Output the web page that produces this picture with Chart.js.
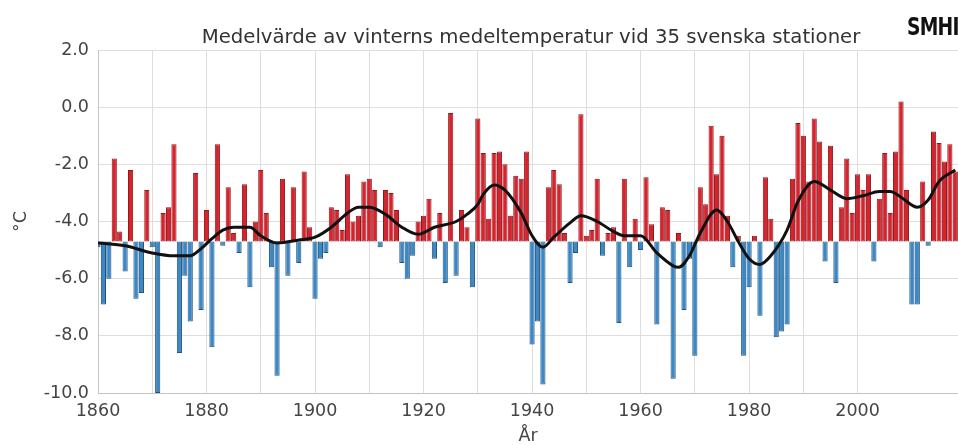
<!DOCTYPE html>
<html>
<head>
<meta charset="utf-8">
<script src="https://cdn.jsdelivr.net/npm/chart.js@4.4.0/dist/chart.umd.min.js"></script>
<style>
html,body{margin:0;padding:0;background:#fff;overflow:hidden;}
#wrap{position:relative;width:958px;height:445px;overflow:hidden;}
#logo{position:absolute;left:907px;top:13px;font-family:"DejaVu Sans","Liberation Sans",sans-serif;font-weight:bold;font-size:24px;letter-spacing:-1px;color:#111;white-space:nowrap;transform:scaleX(0.78);transform-origin:0 0;}
</style>
</head>
<body>
<div id="wrap">
<canvas id="c" width="958" height="445"></canvas>
<div id="logo">SMHI</div>
</div>
<script>
// ---- data ----
const titleText = "Medelvärde av vinterns medeltemperatur vid 35 svenska stationer";
const yAxisLabel = "°C";
const xAxisLabel = "År";
const firstYear = 1860;
const baselineValue = -4.7;           // long-term mean, bars grow from here
const yTickValues = [2, 0, -2, -4, -6, -8, -10];
const xLabelYears = [1860, 1880, 1900, 1920, 1940, 1960, 1980, 2000];

// winter mean temperature per year, 1860 ... 2018
const winterTemp = [
  -4.9, -6.9, -6.0, -1.8, -4.35, -5.75, -2.2, -6.7, -6.5, -2.9,   // 1860s
  -4.9, -10.0, -3.7, -3.5, -1.3, -8.6, -5.9, -7.5, -2.3, -7.1,    // 1870s
  -3.6, -8.4, -1.3, -4.85, -2.8, -4.4, -5.1, -2.7, -6.3, -4.0,    // 1880s
  -2.2, -3.7, -5.6, -9.4, -2.5, -5.9, -2.8, -5.45, -2.25, -4.2,   // 1890s
  -6.7, -5.3, -5.1, -3.5, -3.6, -4.3, -2.35, -4.0, -3.8, -2.6,    // 1900s
  -2.5, -2.9, -4.9, -2.9, -3.0, -3.6, -5.45, -6.0, -5.2, -4.0,    // 1910s
  -3.8, -3.2, -5.3, -3.7, -6.15, -0.2, -5.9, -3.6, -4.2, -6.3,    // 1920s
  -0.4, -1.6, -3.9, -1.6, -1.55, -2.0, -3.8, -2.4, -2.5, -1.55,   // 1930s
  -8.3, -7.5, -9.7, -2.8, -2.2, -2.7, -4.4, -6.15, -5.1, -0.25,   // 1940s
  -4.5, -4.3, -2.5, -5.2, -4.4, -4.2, -7.55, -2.5, -5.6, -3.9,    // 1950s
  -5.0, -2.45, -4.1, -7.6, -3.5, -3.6, -9.5, -4.4, -7.1, -5.3,    // 1960s
  -8.7, -2.8, -3.4, -0.65, -2.35, -1.0, -3.8, -5.6, -4.5, -8.7,   // 1970s
  -6.3, -4.5, -7.3, -2.45, -3.9, -8.05, -7.85, -7.6, -2.5, -0.55, // 1980s
  -1.0, -2.6, -0.4, -1.2, -5.4, -1.35, -6.15, -3.5, -1.8, -3.7,   // 1990s
  -2.35, -2.9, -2.35, -5.4, -3.2, -1.6, -3.7, -1.55, 0.2, -2.9,   // 2000s
  -6.9, -6.9, -2.6, -4.85, -0.85, -1.25, -1.9, -1.3, -2.25        // 2010s
];

// smoothed curve, read at selected years
const smoothYears = [1860, 1865, 1870, 1874, 1877, 1879, 1881, 1883, 1885, 1888,
  1890, 1893, 1897, 1900, 1903, 1906, 1908, 1910, 1913, 1916, 1919, 1922, 1926,
  1928, 1930, 1931, 1933, 1935, 1938, 1940, 1942, 1944, 1947, 1949, 1952, 1955,
  1957, 1960, 1963, 1966, 1967, 1969, 1971, 1974, 1976, 1978, 1980, 1982, 1984,
  1987, 1989, 1992, 1995, 1998, 2001, 2004, 2006, 2008, 2011, 2013, 2015, 2018];
const smoothTemp = [-4.75, -4.85, -5.1, -5.2, -5.2, -4.95, -4.6, -4.3, -4.2, -4.2,
  -4.5, -4.75, -4.65, -4.55, -4.2, -3.7, -3.5, -3.5, -3.75, -4.2, -4.45, -4.2, -4.0,
  -3.75, -3.4, -3.05, -2.72, -2.9, -3.7, -4.5, -4.9, -4.55, -4.05, -3.8, -4.0, -4.35,
  -4.5, -4.5, -5.1, -5.55, -5.6, -5.2, -4.4, -3.6, -4.0, -4.7, -5.3, -5.5, -5.2,
  -4.3, -3.3, -2.6, -2.9, -3.2, -3.1, -2.95, -2.95, -3.15, -3.5, -3.25, -2.6, -2.2];

// ---- styling ----
const RED = '#d8222c', RED_EDGE = '#8c1a1f';
const BLUE = '#3a88c6', BLUE_EDGE = '#23537c';
const FONT = '"DejaVu Sans", sans-serif';
const TEXT = '#444';

const barPoints = winterTemp.map((v, i) => ({ x: firstYear + i, y: v }));
const linePoints = smoothYears.map((yr, i) => ({ x: yr, y: smoothTemp[i] }));

const titlePlugin = {
  id: 'topTitle',
  afterDraw(chart) {
    const ctx = chart.ctx;
    ctx.save();
    ctx.font = '19.7px ' + FONT;
    ctx.fillStyle = '#333';
    ctx.textAlign = 'center';
    ctx.textBaseline = 'alphabetic';
    ctx.fillText(titleText, 531, 43);
    ctx.restore();
  }
};

new Chart(document.getElementById('c'), {
  data: {
    datasets: [
      {
        type: 'line',
        data: linePoints,
        borderColor: '#111',
        borderWidth: 3,
        pointRadius: 0,
        cubicInterpolationMode: 'monotone',
        fill: false,
        order: 0
      },
      {
        type: 'bar',
        data: barPoints,
        base: baselineValue,
        backgroundColor: c => (c.parsed && c.parsed.y >= baselineValue) ? RED : BLUE,
        borderColor: c => (c.parsed && c.parsed.y >= baselineValue) ? RED_EDGE : BLUE_EDGE,
        borderWidth: 1,
        borderSkipped: false,
        barPercentage: 0.95,
        categoryPercentage: 1.0,
        order: 1
      }
    ]
  },
  options: {
    responsive: false,
    animation: false,
    events: [],
    layout: { padding: { top: 50, right: 0, bottom: 0, left: 0 } },
    plugins: { legend: { display: false }, tooltip: { enabled: false }, title: { display: false } },
    scales: {
      x: {
        type: 'linear',
        offset: false,
        min: 1860,
        max: 2018.5,
        afterBuildTicks: axis => {
          axis.ticks = axis.ticks.filter(t => Math.abs(t.value % 10) < 1e-6);
        },
        afterFit: s => { s.height = 52; },
        ticks: {
          stepSize: 10,
          autoSkip: false,
          maxRotation: 0,
          padding: 8,
          color: TEXT,
          font: { family: FONT, size: 17.5 },
          callback: v => xLabelYears.includes(v) ? String(v) : ''
        },
        grid: { color: '#dedede', lineWidth: 1, drawTicks: false, offset: false },
        border: { color: '#c4c4c4', width: 1 },
        title: {
          display: true, text: xAxisLabel, color: TEXT,
          font: { family: FONT, size: 17.5, lineHeight: 1 }, padding: { top: 0, bottom: 0 }
        }
      },
      y: {
        min: -10,
        max: 2,
        afterBuildTicks: axis => { axis.ticks = yTickValues.slice().reverse().map(v => ({ value: v })); },
        afterFit: s => { s.width = 98; },
        ticks: {
          padding: 9,
          color: TEXT,
          font: { family: FONT, size: 17.5 },
          callback: v => v.toFixed(1)
        },
        grid: { color: '#dedede', lineWidth: 1, drawTicks: false },
        border: { color: '#c4c4c4', width: 1 },
        title: {
          display: true, text: yAxisLabel, color: TEXT,
          font: { family: FONT, size: 17.5 }, padding: { top: 11, bottom: 0 }
        }
      }
    }
  },
  plugins: [titlePlugin]
});
</script>
</body>
</html>
